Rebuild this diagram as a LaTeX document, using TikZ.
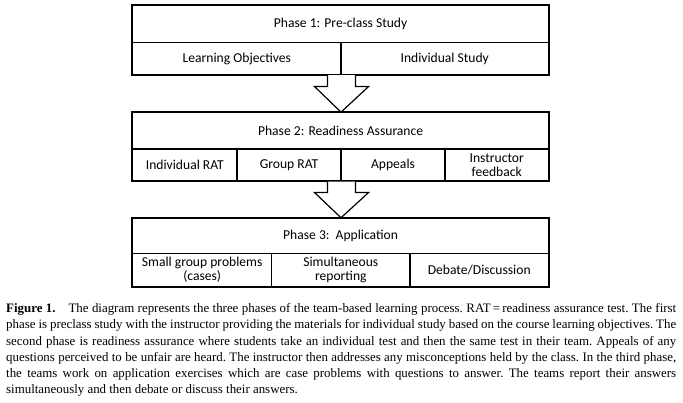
\documentclass[tikz,border=0pt]{standalone}
\usepackage{fontspec}
\setmainfont{Liberation Serif}
\newfontfamily\boxfont{Carlito}
\usetikzlibrary{calc}
\tikzset{
  cell/.style={draw, line width=1.1pt, inner sep=0pt, align=center,
    font=\boxfont\fontsize{13.6}{14}\selectfont},
  frame/.style={draw, line width=1.6pt},
  bigarrow/.style={draw, line width=1.2pt, fill=white, line join=miter},
}
\begin{document}
\begin{tikzpicture}[x=1pt,y=-1pt]
\useasboundingbox (0,0) rectangle (683,402);
% ---------- Phase 1
\node[cell, minimum width=415.8pt, minimum height=37.7pt] (h1) at (340.6,23.85) {Phase 1: Pre-class Study};
\node[cell, minimum width=208.3pt, minimum height=31.8pt] (c11) at (236.85,58.6) {Learning Objectives};
\node[cell, minimum width=207.5pt, minimum height=31.8pt] (c12) at (444.75,58.6) {Individual Study};
\draw[frame] (h1.north west) rectangle (c12.south east);
% ---------- Phase 2
\node[cell, minimum width=415.8pt, minimum height=36.3pt] (h2) at (340.6,130.85) {Phase 2: Readiness Assurance};
\node[cell, minimum width=104.3pt, minimum height=32pt] (c21) at (184.85,165) {Individual RAT};
\node[cell, minimum width=104pt, minimum height=32pt] (c22) at (289,165) {Group RAT};
\node[cell, minimum width=104pt, minimum height=32pt] (c23) at (393,165) {Appeals};
\node[cell, minimum width=103.5pt, minimum height=32pt] (c24) at (496.75,165) {Instructor\\feedback};
\draw[frame] (h2.north west) rectangle (c24.south east);
% ---------- Phase 3
\node[cell, minimum width=415.8pt, minimum height=35pt] (h3) at (340.6,235.8) {Phase 3:\ \ Application};
\node[cell, minimum width=139pt, minimum height=33.4pt] (c31) at (202.2,270) {Small group problems\\(cases)};
\node[cell, minimum width=138.3pt, minimum height=33.4pt] (c32) at (340.85,270) {Simultaneous\\reporting};
\node[cell, minimum width=138.5pt, minimum height=33.4pt] (c33) at (479.25,270) {Debate/Discussion};
\draw[frame] (h3.north west) rectangle (c33.south east);
% ---------- arrows
\coordinate (a1) at ($(c11.south east)$);
\draw[bigarrow] ($(a1)+(-14,0)$) -- ($(a1)+(-14,11.5)$) -- ($(a1)+(-27,11.5)$)
  -- ($(h2.north)+(0.4,0)$) -- ($(a1)+(27,11.5)$) -- ($(a1)+(14,11.5)$) -- ($(a1)+(14,0)$);
\coordinate (a2) at ($(c22.south east)$);
\draw[bigarrow] ($(a2)+(-14,0)$) -- ($(a2)+(-14,11)$) -- ($(a2)+(-27,11)$)
  -- ($(h3.north)+(0.4,0)$) -- ($(a2)+(27,11)$) -- ($(a2)+(14,11)$) -- ($(a2)+(14,0)$);
% ---------- caption
\node[anchor=north west, inner sep=0pt, text width=670pt, align=justify,
  font=\fontsize{12.9}{16.2}\selectfont\frenchspacing] (cap) at (6,303.5)
{\textbf{Figure 1.}\quad The diagram represents the three phases of the team-based learning process. RAT\,=\,readiness assurance test. The first\linebreak
phase is preclass study with the instructor providing the materials for individual study based on the course learning objectives. The\linebreak
second phase is readiness assurance where students take an individual test and then the same test in their team. Appeals of any\linebreak
questions perceived to be unfair are heard. The instructor then addresses any misconceptions held by the class. In the third phase,\linebreak
the teams work on application exercises which are case problems with questions to answer. The teams report their answers\linebreak
simultaneously and then debate or discuss their answers.};
\end{tikzpicture}
\end{document}
